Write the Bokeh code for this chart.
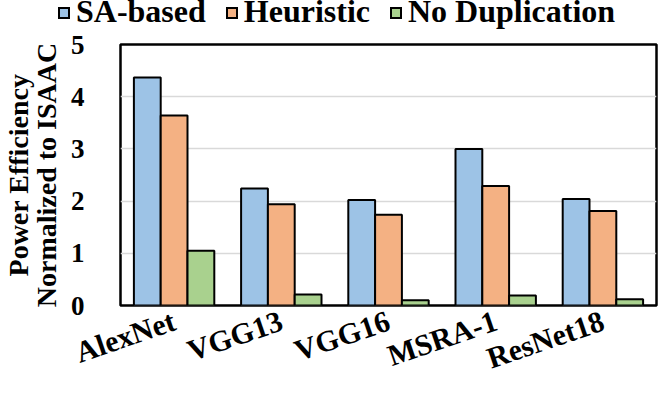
from bokeh.plotting import figure
from bokeh.models import FactorRange, Range1d, FixedTicker, ColumnDataSource, Div
from bokeh.transform import dodge
from bokeh.layouts import column
from bokeh.embed import file_html
from bokeh.resources import INLINE

categories = ["AlexNet", "VGG13", "VGG16", "MSRA-1", "ResNet18"]
series_names = ["SA-based", "Heuristic", "No Duplication"]
sa_based = [4.37, 2.24, 2.02, 3.00, 2.04]
heuristic = [3.64, 1.94, 1.74, 2.29, 1.81]
no_duplication = [1.05, 0.21, 0.10, 0.19, 0.12]
y_ticks = [0, 1, 2, 3, 4, 5]
colors = ["#9DC3E6", "#F4B183", "#A9D18E"]

FONT = "Liberation Serif"

source = ColumnDataSource(dict(cat=categories, sa=sa_based, h=heuristic, nd=no_duplication))

# ---- legend strip as HTML (real text) ----
items_html = ""
for i, (name, c) in enumerate(zip(series_names, colors)):
    ml = 0 if i == 0 else 20
    items_html += (f'<span style="display:inline-block;width:12px;height:12px;'
                   f'border:2px solid #000;background:{c};vertical-align:3px;'
                   f'margin-left:{ml}px;margin-right:6px;"></span>'
                   f'<span style="font-family:Liberation Serif,serif;">{name}</span>')
legend_div = Div(text=(f'<div style="padding-left:58px;font-family:Liberation Serif,serif;font-weight:bold;'
                       f'font-size:32px;line-height:22px;white-space:nowrap;color:#000;">'
                       f'{items_html}</div>'),
                 width=648, height=30, margin=0,
                 styles={"font-family": "Liberation Serif, serif", "font-weight": "bold",
                         "font-size": "32px", "line-height": "22px", "color": "#000"})

# ---- main chart ----
p = figure(x_range=FactorRange(*categories), y_range=Range1d(0, 5),
           frame_width=536, frame_height=261, output_backend="svg", toolbar_location=None,
           min_border_left=110, min_border_right=2, min_border_top=14, min_border_bottom=20)
p.title.visible = False

cols = ["sa", "h", "nd"]
offsets = [-0.25, 0.0, 0.25]
for col, off, c in zip(cols, offsets, colors):
    p.vbar(x=dodge("cat", off, range=p.x_range), top=col, width=0.25, bottom=0,
           source=source, fill_color=c, line_color="black", line_width=2)

p.xgrid.visible = False
p.ygrid.ticker = FixedTicker(ticks=y_ticks)
p.ygrid.grid_line_color = "#D9D9D9"
p.ygrid.grid_line_width = 1.5

p.outline_line_color = "black"
p.outline_line_width = 2.5
p.outline_line_alpha = 1.0

p.yaxis.ticker = FixedTicker(ticks=y_ticks)
for ax in (p.xaxis, p.yaxis):
    ax.axis_line_color = None
    ax.major_tick_line_color = None
    ax.minor_tick_line_color = None
    ax.major_tick_in = 0
    ax.major_tick_out = 0
    ax.major_label_text_font = FONT
    ax.major_label_text_font_style = "bold"
    ax.major_label_text_color = "black"

p.yaxis.major_label_text_font_size = "27px"
p.yaxis.major_label_standoff = 36
p.yaxis.axis_label = "Power Efficiency\nNormalized to ISAAC"
p.yaxis.axis_label_text_font = FONT
p.yaxis.axis_label_text_font_style = "bold"
p.yaxis.axis_label_text_font_size = "28px"
p.yaxis.axis_label_text_line_height = 0.9
p.yaxis.axis_label_text_color = "black"
p.yaxis.axis_label_standoff = 6

p.xaxis.major_label_text_font_size = "30px"
p.xaxis.major_label_orientation = 0.33
p.xaxis.major_label_standoff = 14

p.background_fill_color = "white"
p.border_fill_color = "white"

layout = column(legend_div, p, spacing=0)
open("out.html", "w").write(file_html(layout, INLINE))
